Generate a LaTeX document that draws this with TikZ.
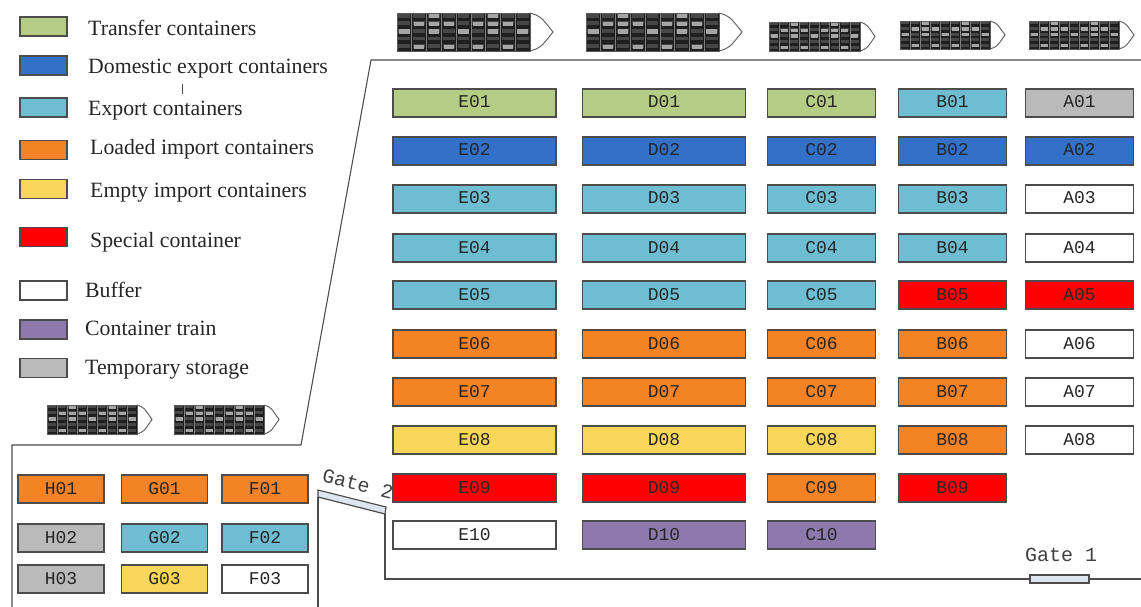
\documentclass[tikz,border=0pt]{standalone}
\usepackage{fontspec}
\setmainfont{Liberation Serif}
\setmonofont{Liberation Mono}
\definecolor{transfergreen}{HTML}{B5CC85}
\definecolor{domesticblue}{HTML}{3370C8}
\definecolor{exportcyan}{HTML}{6EBDD3}
\definecolor{loadedorange}{HTML}{F38325}
\definecolor{emptyyellow}{HTML}{F7D65A}
\definecolor{specialred}{HTML}{FF0000}
\definecolor{trainpurple}{HTML}{8E78AC}
\definecolor{storagegray}{HTML}{BABABA}
\definecolor{gatefill}{HTML}{DDE5F3}
\tikzset{
  bay/.style={draw=black!70,line width=1.3pt,inner sep=0pt,minimum height=28pt,text height=12pt,text depth=2pt,font=\fontsize{18}{20}\selectfont\ttfamily,text=black!85},
  bigbay/.style={bay,minimum width=163pt},
  midbay/.style={bay,minimum width=108pt},
  smallbay/.style={bay,minimum width=86pt},
  legendbox/.style={draw=black!70,line width=1.3pt,minimum width=47pt,minimum height=19pt,inner sep=0pt},
  legendtext/.style={anchor=base west,inner sep=0pt,font=\fontsize{21.8}{24}\selectfont,text=black!85},
  boundary/.style={draw=black!70,line width=1.1pt},
  gatebox/.style={draw=black!70,line width=1.2pt,fill=gatefill},
  gatetext/.style={inner sep=0pt,font=\fontsize{20}{22}\selectfont\ttfamily,text=black!75}
}
% #1,#2 top left corner, #3 hull width, #4 hull height, #5 bow length
\newcommand{\ship}[5]{
  \begin{scope}[shift={(#1,#2)},x=#3pt/9,y=-#4pt/5]
    \draw[black!60,line width=1pt] (9,0) .. controls (9+0.45*#5/#3*9,0.4) .. (9+#5/#3*9,2.5) .. controls (9+0.45*#5/#3*9,4.6) .. (9,5);
    \fill[black!88] (0,0) rectangle (9,5);
    \foreach \col in {0,...,8} {
      \foreach \row in {0,...,4} {
        \fill[black!72] (\col+0.1,\row+0.1) rectangle (\col+0.9,\row+0.6);
      }
      \draw[black!50,line width=0.6pt] (\col,0) -- (\col,5);
    }
    \foreach \col/\row in {2/0,6/0,1/1,2/1,3/1,5/1,6/1,7/1,0/2,2/2,4/2,6/2,8/2,1/4,3/4,5/4,7/4} {
      \fill[black!35] (\col+0.15,\row+0.15) rectangle (\col+0.85,\row+0.7);
    }
    \draw[black!65,line width=0.8pt] (0,0) rectangle (9,5);
  \end{scope}
}
\begin{document}
\begin{tikzpicture}[x=1pt,y=-1pt]
  \useasboundingbox (0,0) rectangle (1141,607);
  % legend
  \node[legendbox,fill=transfergreen] (kgreen) at (43.5,26.5) {};
  \node[legendbox,fill=domesticblue] (kblue) at (43.5,65.5) {};
  \node[legendbox,fill=exportcyan] (kcyan) at (43.5,107.5) {};
  \node[legendbox,fill=loadedorange] (korange) at (43.5,150) {};
  \node[legendbox,fill=emptyyellow] (kyellow) at (43.5,189) {};
  \node[legendbox,fill=specialred] (kred) at (43.5,237) {};
  \node[legendbox,fill=white] (kwhite) at (43.5,290.5) {};
  \node[legendbox,fill=trainpurple] (kpurple) at (43.5,329.5) {};
  \node[legendbox,fill=storagegray] (kgray) at (43.5,368) {};
  \node[legendtext] (ltransfer) at (88,36) {Transfer containers};
  \node[legendtext] (ldomestic) at (88,74) {Domestic export containers};
  \node[legendtext] (lexport) at (88,116) {Export containers};
  \node[legendtext] (lloaded) at (90,155) {Loaded import containers};
  \node[legendtext] (lempty) at (90,197) {Empty import containers};
  \node[legendtext] (lspecial) at (90,247) {Special container};
  \node[legendtext] (lbuffer) at (85,297) {Buffer};
  \node[legendtext] (ltrain) at (85,335) {Container train};
  \node[legendtext] (lstorage) at (85,374) {Temporary storage};
  \draw[black!70,line width=0.8pt] (182,84) -- (182,94);
  % ships
  \ship{397}{13}{133}{38}{23}
  \ship{586}{13}{133}{38}{23}
  \ship{769}{22}{91}{29}{15}
  \ship{900}{21}{90}{28}{15}
  \ship{1029}{21}{90}{28}{15}
  \ship{47}{405}{90}{29}{15}
  \ship{174}{405}{90}{29}{15}
  % boundary
  \draw[boundary] (1141,60) -- (371,60) -- (301,445) -- (12,445) -- (12,607);
  \node[gatebox,minimum width=59pt,minimum height=8pt,inner sep=0pt] (gateone) at (1059.5,579) {};
  \node[gatetext] (gateonelabel) at (1061,555) {Gate 1};
  \coordinate (gatetwoa) at (318,490);
  \coordinate (gatetwob) at (386,507);
  \coordinate (gatetwoc) at (385,514);
  \coordinate (gatetwod) at (318,497);
  \filldraw[gatebox] (gatetwoa) -- (gatetwob) -- (gatetwoc) -- (gatetwod) -- cycle;
  \node[gatetext,rotate=-14] (gatetwolabel) at (358,484) {Gate 2};
  \draw[boundary] (gatetwod) -- (318,607);
  \draw[boundary] (gatetwoc) -- (385,579) -- (gateone.west);
  \draw[boundary] (gateone.east) -- (1141,579);
  % column E
  \node[bigbay,fill=transfergreen] (E01) at (474.5,103) {E01};
  \node[bigbay,fill=domesticblue] (E02) at (474.5,151) {E02};
  \node[bigbay,fill=exportcyan] (E03) at (474.5,199) {E03};
  \node[bigbay,fill=exportcyan] (E04) at (474.5,248) {E04};
  \node[bigbay,fill=exportcyan] (E05) at (474.5,295) {E05};
  \node[bigbay,fill=loadedorange] (E06) at (474.5,344) {E06};
  \node[bigbay,fill=loadedorange] (E07) at (474.5,392) {E07};
  \node[bigbay,fill=emptyyellow] (E08) at (474.5,440) {E08};
  \node[bigbay,fill=specialred] (E09) at (474.5,488) {E09};
  \node[bigbay,fill=white] (E10) at (474.5,535) {E10};
  % column D
  \node[bigbay,fill=transfergreen] (D01) at (664,103) {D01};
  \node[bigbay,fill=domesticblue] (D02) at (664,151) {D02};
  \node[bigbay,fill=exportcyan] (D03) at (664,199) {D03};
  \node[bigbay,fill=exportcyan] (D04) at (664,248) {D04};
  \node[bigbay,fill=exportcyan] (D05) at (664,295) {D05};
  \node[bigbay,fill=loadedorange] (D06) at (664,344) {D06};
  \node[bigbay,fill=loadedorange] (D07) at (664,392) {D07};
  \node[bigbay,fill=emptyyellow] (D08) at (664,440) {D08};
  \node[bigbay,fill=specialred] (D09) at (664,488) {D09};
  \node[bigbay,fill=trainpurple] (D10) at (664,535) {D10};
  % column C
  \node[midbay,fill=transfergreen] (C01) at (821.5,103) {C01};
  \node[midbay,fill=domesticblue] (C02) at (821.5,151) {C02};
  \node[midbay,fill=exportcyan] (C03) at (821.5,199) {C03};
  \node[midbay,fill=exportcyan] (C04) at (821.5,248) {C04};
  \node[midbay,fill=exportcyan] (C05) at (821.5,295) {C05};
  \node[midbay,fill=loadedorange] (C06) at (821.5,344) {C06};
  \node[midbay,fill=loadedorange] (C07) at (821.5,392) {C07};
  \node[midbay,fill=emptyyellow] (C08) at (821.5,440) {C08};
  \node[midbay,fill=loadedorange] (C09) at (821.5,488) {C09};
  \node[midbay,fill=trainpurple] (C10) at (821.5,535) {C10};
  % column B
  \node[midbay,fill=exportcyan] (B01) at (952.5,103) {B01};
  \node[midbay,fill=domesticblue] (B02) at (952.5,151) {B02};
  \node[midbay,fill=exportcyan] (B03) at (952.5,199) {B03};
  \node[midbay,fill=exportcyan] (B04) at (952.5,248) {B04};
  \node[midbay,fill=specialred] (B05) at (952.5,295) {B05};
  \node[midbay,fill=loadedorange] (B06) at (952.5,344) {B06};
  \node[midbay,fill=loadedorange] (B07) at (952.5,392) {B07};
  \node[midbay,fill=loadedorange] (B08) at (952.5,440) {B08};
  \node[midbay,fill=specialred] (B09) at (952.5,488) {B09};
  % column A
  \node[midbay,fill=storagegray] (A01) at (1079.5,103) {A01};
  \node[midbay,fill=domesticblue] (A02) at (1079.5,151) {A02};
  \node[midbay,fill=white] (A03) at (1079.5,199) {A03};
  \node[midbay,fill=white] (A04) at (1079.5,248) {A04};
  \node[midbay,fill=specialred] (A05) at (1079.5,295) {A05};
  \node[midbay,fill=white] (A06) at (1079.5,344) {A06};
  \node[midbay,fill=white] (A07) at (1079.5,392) {A07};
  \node[midbay,fill=white] (A08) at (1079.5,440) {A08};
  % lower left yard
  \node[smallbay,fill=loadedorange] (H01) at (61,489) {H01};
  \node[smallbay,fill=storagegray] (H02) at (61,538) {H02};
  \node[smallbay,fill=storagegray] (H03) at (61,579) {H03};
  \node[smallbay,fill=loadedorange] (G01) at (164.5,489) {G01};
  \node[smallbay,fill=exportcyan] (G02) at (164.5,538) {G02};
  \node[smallbay,fill=emptyyellow] (G03) at (164.5,579) {G03};
  \node[smallbay,fill=loadedorange] (F01) at (265,489) {F01};
  \node[smallbay,fill=exportcyan] (F02) at (265,538) {F02};
  \node[smallbay,fill=white] (F03) at (265,579) {F03};
\end{tikzpicture}
\end{document}
